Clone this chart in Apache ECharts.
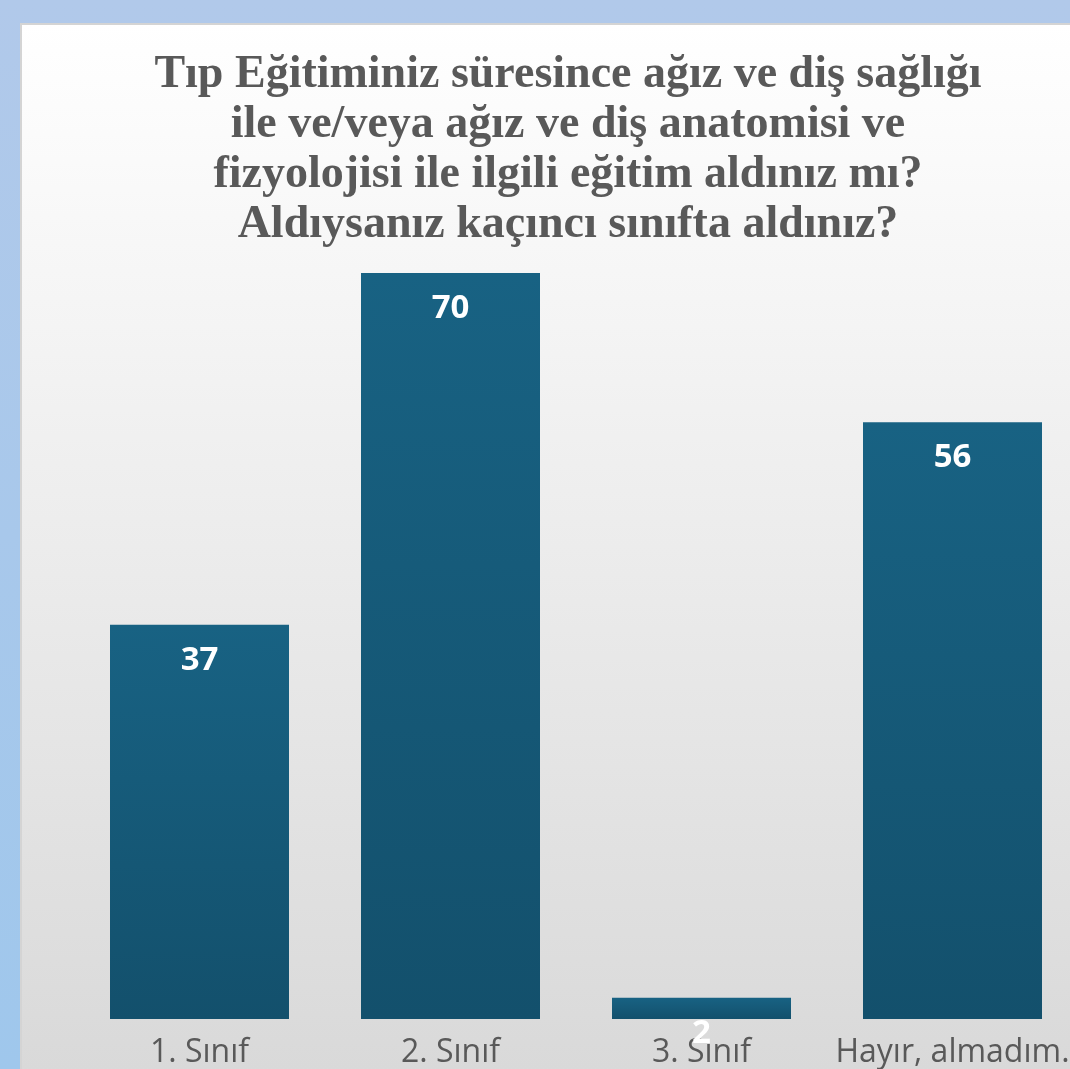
<!DOCTYPE html>
<html><head><meta charset="utf-8">
<script src="https://cdn.jsdelivr.net/npm/echarts@6/dist/echarts.min.js"></script>
<style>html,body{margin:0;padding:0;background:#aecaea;overflow:hidden;width:1070px;height:1069px;}#c{width:1100px;height:1069px;}</style>
</head><body><div id="c"></div>
<script>
const categories = ['1. Sınıf', '2. Sınıf', '3. Sınıf', 'Hayır, almadım.'];
const values = [37, 70, 2, 56];
const titleText = 'Tıp Eğitiminiz süresince ağız ve diş sağlığı\nile ve/veya ağız ve diş anatomisi ve\nfizyolojisi ile ilgili eğitim aldınız mı?\nAldıysanız kaçıncı sınıfta aldınız?';

const chart = echarts.init(document.getElementById('c'));
chart.setOption({
  animation: false,
  graphic: [
    { type: 'rect', z: -10, silent: true, shape: { x: 0, y: 0, width: 1100, height: 1069 },
      style: { fill: new echarts.graphic.LinearGradient(0, 0, 0, 1, [{offset: 0, color: '#b1c9ea'}, {offset: 1, color: '#9fc7ec'}]) } },
    { type: 'rect', z: -9, silent: true, shape: { x: 21, y: 24, width: 1100, height: 1100 },
      style: { fill: new echarts.graphic.LinearGradient(0, 0, 0, 1, [{offset: 0, color: '#ffffff'}, {offset: 0.95, color: '#d9d9d9'}, {offset: 1, color: '#d9d9d9'}]),
               stroke: '#d4d4d4', lineWidth: 2 } }
  ],
  title: {
    text: titleText,
    left: 563, top: 45, textAlign: 'center',
    textStyle: { fontFamily: 'Liberation Serif', fontWeight: 'bold', fontSize: 46, lineHeight: 50, color: '#595959' }
  },
  grid: { left: 74, top: 273, width: 1004, height: 752, containLabel: false },
  xAxis: {
    type: 'category', data: categories,
    axisLine: { show: false }, axisTick: { show: false },
    axisLabel: { color: '#595959', fontFamily: 'Open Sans', fontSize: 32, margin: 18, interval: 0 }
  },
  yAxis: { type: 'value', min: 0, max: 70, show: false, splitLine: { show: false } },
  series: [{
    type: 'bar', data: values, barWidth: 179,
    itemStyle: { color: new echarts.graphic.LinearGradient(0, 0, 0, 1, [{offset: 0, color: '#186283'}, {offset: 1, color: '#13506c'}]) },
    label: { show: true, position: 'insideTop', distance: 19, color: '#ffffff', fontFamily: 'Open Sans', fontWeight: 'bold', fontSize: 33 }
  }]
});
</script></body></html>
